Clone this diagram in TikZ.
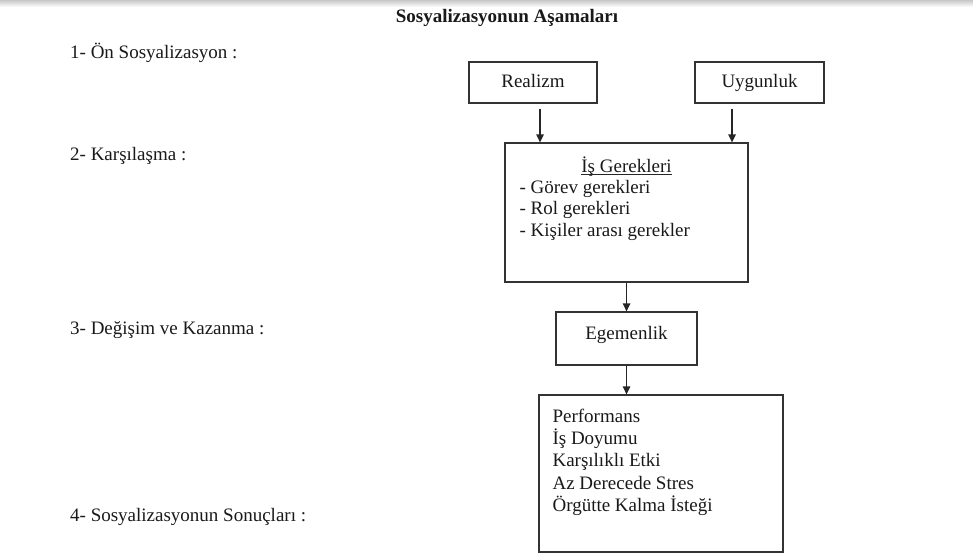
\documentclass[tikz,border=0pt]{standalone}
\usepackage{fontspec}
\setmainfont{Liberation Serif}
\usetikzlibrary{arrows.meta}

\begin{document}
\begin{tikzpicture}[x=1pt, y=-1pt,
    every node/.style={font=\fontsize{19}{22}\selectfont, inner sep=0pt, text=black!90},
    kutu/.style={draw=black!80, line width=1.3pt, rectangle},
    pil/.style={-{Triangle[length=8pt, width=7.5pt]}, line width=1.3pt, black!85}]
  \useasboundingbox (0,0) rectangle (973,555);
  \shade[top color=black!22, bottom color=white] (0,0) rectangle (973,7);

  % baslik ve asamalar
  \node[anchor=base, font=\fontsize{19}{22}\selectfont\bfseries] (baslik) at (507,22) {Sosyalizasyonun Aşamaları};
  \node[anchor=base west] (asama1) at (70,58) {1- Ön Sosyalizasyon :};
  \node[anchor=base west] (asama2) at (70,160) {2- Karşılaşma :};
  \node[anchor=base west] (asama3) at (70,334) {3- Değişim ve Kazanma :};
  \node[anchor=base west] (asama4) at (70,521) {4- Sosyalizasyonun Sonuçları :};

  % kutular
  \node[kutu, minimum width=128, minimum height=41, text height=13pt, text depth=4pt] (realizm) at (533,82.5) {Realizm};
  \node[kutu, minimum width=129, minimum height=41, text height=13pt, text depth=4pt] (uygunluk) at (759.5,82.5) {Uygunluk};
  \node[kutu, minimum width=243, minimum height=139] (gerek) at (626.5,212.5) {};
  \node[kutu, minimum width=141, minimum height=53] (egemen) at (626.5,338.5) {};
  \node[kutu, minimum width=244, minimum height=157] (sonuc) at (661,473.5) {};

  \node[anchor=base] (gerekbaslik) at ([yshift=-30pt]gerek.north) {İş Gerekleri};
  \draw[line width=0.8pt, black!85] ([yshift=-2.5pt]gerekbaslik.base west) -- ([yshift=-2.5pt]gerekbaslik.base east);
  \foreach \satir [count=\i] in {- Görev gerekleri, - Rol gerekleri, - Kişiler arası gerekler}
    \node[anchor=base west] (gerek\i) at ([xshift=15pt, yshift={-51pt-21.5pt*(\i-1)}]gerek.north west) {\satir};
  \node[anchor=base] (egemenyazi) at ([yshift=-28pt]egemen.north) {Egemenlik};
  \foreach \satir [count=\i] in {Performans, İş Doyumu, Karşılıklı Etki, Az Derecede Stres, Örgütte Kalma İsteği}
    \node[anchor=base west] (sonuc\i) at ([xshift=14pt, yshift={-28pt-22.25pt*(\i-1)}]sonuc.north west) {\satir};

  % oklar
  \draw[pil] ([xshift=7pt, yshift=-5pt]realizm.south) -- ([xshift=7pt]realizm.south |- gerek.north);
  \draw[pil] ([xshift=-27.5pt, yshift=-5pt]uygunluk.south) -- ([xshift=-27.5pt]uygunluk.south |- gerek.north);
  \draw[pil] (gerek.south) -- (egemen.north);
  \draw[pil] (egemen.south) -- (egemen.south |- sonuc.north);
\end{tikzpicture}
\end{document}
